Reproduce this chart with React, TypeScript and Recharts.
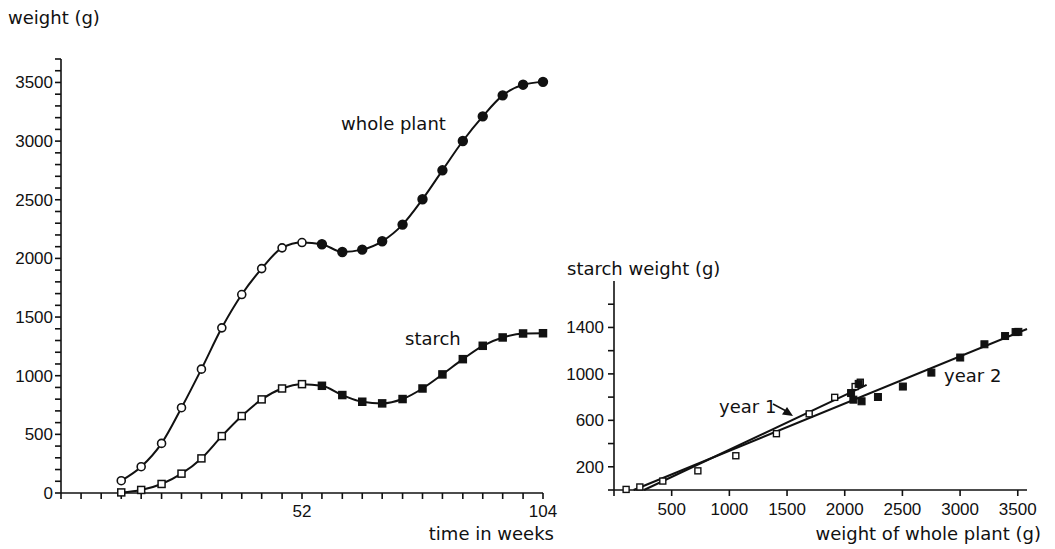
import { ComposedChart, Line, Scatter, XAxis, YAxis } from "recharts";

// sampling dates (weeks) over the two seasons
const weeks = [13, 17.3, 21.7, 26, 30.3, 34.7, 39, 43.3, 47.7, 52, 56.3, 60.7, 65, 69.3, 73.7, 78, 82.3, 86.7, 91, 95.3, 99.7, 104];
const wholePlant = [105, 224, 423, 727, 1056, 1408, 1692, 1913, 2090, 2135, 2121, 2055, 2075, 2146, 2288, 2504, 2751, 3001, 3211, 3390, 3481, 3505];
const starch = [5, 26, 77, 165, 295, 485, 656, 798, 891, 928, 914, 835, 778, 764, 801, 891, 1011, 1141, 1255, 1326, 1360, 1362];

// fitted lines of the right panel (end points)
const fitYear1Whole = [260, 2190];
const fitYear1Starch = [0, 905];
const fitYear2Whole = [170, 3580];
const fitYear2Starch = [0, 1387];

// axis ticks
const monthTicks = [0, 4.33, 8.67, 13, 17.3, 21.7, 26, 30.3, 34.7, 39, 43.3, 47.7, 52, 56.3, 60.7, 65, 69.3, 73.7, 78, 82.3, 86.7, 91, 95.3, 99.7, 104];
const weekLabels = [52, 104];
const weightLabels = [0, 500, 1000, 1500, 2000, 2500, 3000, 3500];
const scatterXTicks = [0, 500, 1000, 1500, 2000, 2500, 3000, 3500];
const scatterYTicks = [0, 200, 400, 600, 800, 1000, 1200, 1400, 1600];
const scatterYLabels = [200, 600, 1000, 1400];

const INK = "#111";
const LABEL_FONT = "DejaVu Sans";
const NUM_FONT = "Liberation Sans";
const tickStyle = { fontFamily: NUM_FONT, fontSize: 17, fill: INK };
const axisStyle = { stroke: INK, strokeWidth: 1.6 };

const weightTicks: number[] = [];
for (let v = 0; v <= 3700; v += 100) weightTicks.push(v);

const timeData = weeks.map((w, i) => ({ week: w, whole: wholePlant[i], starch: starch[i] }));
const year1 = timeData.filter((d) => d.week <= 52).map((d) => ({ x: d.whole, y: d.starch }));
const year2 = timeData.filter((d) => d.week > 52).map((d) => ({ x: d.whole, y: d.starch }));
const fit1 = fitYear1Whole.map((x, i) => ({ x, y: fitYear1Starch[i] }));
const fit2 = fitYear2Whole.map((x, i) => ({ x, y: fitYear2Starch[i] }));

function CircleDot(props: any) {
  const { cx, cy, payload, index } = props;
  const open = payload.week <= 52;
  return <circle key={"c" + index} cx={cx} cy={cy} r={open ? 4 : 4.4} fill={open ? "#fff" : INK} stroke={INK} strokeWidth={1.6} />;
}

function SquareDot(props: any) {
  const { cx, cy, payload, index } = props;
  const open = payload.week <= 52;
  return <rect key={"s" + index} x={cx - 3.5} y={cy - 3.5} width={7} height={7} fill={open ? "#fff" : INK} stroke={INK} strokeWidth={1.5} />;
}

const openSquare = (props: any) => (
  <rect x={props.cx - 3} y={props.cy - 3} width={6} height={6} fill="#fff" stroke={INK} strokeWidth={1.4} />
);
const filledSquare = (props: any) => (
  <rect x={props.cx - 3.5} y={props.cy - 3.5} width={7} height={7} fill={INK} stroke={INK} strokeWidth={1} />
);
const noShape = () => <g />;

export default function App() {
  return (
    <div style={{ position: "absolute", left: 0, top: 0, width: 1055, height: 549, background: "#fff" }}>
      <div style={{ position: "absolute", left: 0, top: 0 }}>
        <ComposedChart width={600} height={549} data={timeData} margin={{ top: 59, right: 57, bottom: 26, left: 0 }}>
          <XAxis
            dataKey="week"
            type="number"
            domain={[0, 104]}
            ticks={monthTicks}
            interval={0}
            tickFormatter={(v: number) => (weekLabels.includes(v) ? String(v) : "")}
            tick={tickStyle}
            tickSize={6}
            tickMargin={6}
            height={30}
            axisLine={axisStyle}
            tickLine={axisStyle}
          />
          <YAxis
            type="number"
            domain={[0, 3700]}
            ticks={weightTicks}
            interval={0}
            tickFormatter={(v: number) => (weightLabels.includes(v) ? String(v) : "")}
            tick={tickStyle}
            tickSize={6}
            tickMargin={2}
            width={61}
            axisLine={axisStyle}
            tickLine={axisStyle}
          />
          <Line dataKey="whole" type="monotone" stroke={INK} strokeWidth={2} dot={CircleDot} isAnimationActive={false} />
          <Line dataKey="starch" type="monotone" stroke={INK} strokeWidth={2} dot={SquareDot} isAnimationActive={false} />
        </ComposedChart>
      </div>

      <div style={{ position: "absolute", left: 560, top: 250 }}>
        <ComposedChart width={495} height={299} margin={{ top: 31, right: 28, bottom: 29, left: 0 }}>
          <XAxis
            dataKey="x"
            type="number"
            domain={[0, 3580]}
            ticks={scatterXTicks}
            interval={0}
            tickFormatter={(v: number) => (v === 0 ? "" : String(v))}
            tick={tickStyle}
            tickSize={6}
            tickMargin={7}
            height={30}
            axisLine={axisStyle}
            tickLine={axisStyle}
          />
          <YAxis
            dataKey="y"
            type="number"
            domain={[0, 1800]}
            ticks={scatterYTicks}
            interval={0}
            tickFormatter={(v: number) => (scatterYLabels.includes(v) ? String(v) : "")}
            tick={tickStyle}
            tickSize={6}
            tickMargin={4}
            width={54}
            axisLine={axisStyle}
            tickLine={axisStyle}
          />
          <Scatter data={fit2} line={{ stroke: INK, strokeWidth: 2 }} shape={noShape} isAnimationActive={false} />
          <Scatter data={fit1} line={{ stroke: INK, strokeWidth: 2 }} shape={noShape} isAnimationActive={false} />
          <Scatter data={year1} shape={openSquare} isAnimationActive={false} />
          <Scatter data={year2} shape={filledSquare} isAnimationActive={false} />
        </ComposedChart>
      </div>

      <svg width={1055} height={549} style={{ position: "absolute", left: 0, top: 0, pointerEvents: "none" }}>
        <g fontFamily={LABEL_FONT} fontSize={18} fill={INK}>
          <text x={8} y={24}>weight (g)</text>
          <text x={554} y={540} textAnchor="end">time in weeks</text>
          <text x={341} y={130}>whole plant</text>
          <text x={405} y={345}>starch</text>
          <text x={567} y={275}>starch weight (g)</text>
          <text x={1041} y={540} textAnchor="end">weight of whole plant (g)</text>
          <text x={719} y={413}>year 1</text>
          <text x={944} y={382}>year 2</text>
        </g>
        <path d="M773 404 L788 412" stroke={INK} strokeWidth={1.5} fill="none" />
        <path d="M793 416 L782 414.5 L787 407 Z" fill={INK} />
      </svg>
    </div>
  );
}
